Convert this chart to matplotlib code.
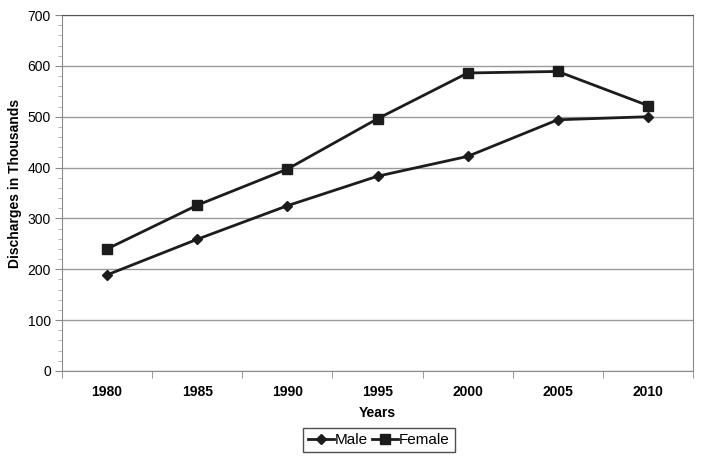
import matplotlib
matplotlib.use("Agg")
import matplotlib.pyplot as plt
from matplotlib.ticker import MultipleLocator, FixedLocator

plt.rcParams["font.family"] = ["Liberation Sans", "DejaVu Sans"]

years = ["1980", "1985", "1990", "1995", "2000", "2005", "2010"]
male = [189, 259, 325, 383, 422, 494, 500]
female = [240, 326, 397, 496, 586, 589, 522]

fig = plt.figure(figsize=(7.04, 4.63), dpi=100)
ax = fig.add_axes([62 / 704, 92 / 463, 631 / 704, 356 / 463])

x = list(range(len(years)))
line_color = "#1c1c1c"
ax.plot(x, male, color=line_color, lw=2, marker="D", ms=5, label="Male")
ax.plot(x, female, color=line_color, lw=2, marker="s", ms=7, label="Female")

ax.set_xlim(-0.5, len(years) - 0.5)
ax.set_ylim(0, 700)

ax.yaxis.set_major_locator(MultipleLocator(100))
ax.yaxis.set_minor_locator(MultipleLocator(20))
ax.grid(axis="y", which="major", color="#9a9a9a", lw=1)
ax.set_axisbelow(True)

ax.set_xticks(x)
ax.set_xticklabels(years, fontweight="bold", fontsize=10)
ax.xaxis.set_minor_locator(FixedLocator([i - 0.5 for i in range(len(years) + 1)]))
ax.tick_params(axis="x", which="major", length=0, pad=10)
ax.tick_params(axis="x", which="minor", length=5, color="#888888")
ax.tick_params(axis="y", which="major", length=5, color="#888888", labelsize=10, pad=3)
ax.tick_params(axis="y", which="minor", length=3, color="#aaaaaa")

for side in ["left", "bottom", "right"]:
    ax.spines[side].set_color("#8a8a8a")
ax.spines["top"].set_color("#555555")

ax.set_xlabel("Years", fontweight="bold", fontsize=10)
ax.xaxis.set_label_coords(0.5, -(413 - 371) / 356, transform=ax.transAxes)
ax.xaxis.label.set_va("center")
ax.set_ylabel("Discharges in Thousands", fontweight="bold", fontsize=10)
ax.yaxis.set_label_coords((15 - 62) / 631, (371 - 183) / 356, transform=ax.transAxes)
ax.yaxis.label.set_va("center")

leg = fig.legend(loc="center", bbox_to_anchor=(379 / 704, 1 - 440 / 463), ncol=2,
                 fancybox=False, frameon=True, fontsize=11, handlelength=1.7,
                 handletextpad=0.05, columnspacing=0.3, borderpad=0.3,
                 borderaxespad=0)
leg.get_frame().set_edgecolor("#222222")
leg.get_frame().set_linewidth(1)

fig.savefig("out.png", dpi=100)
